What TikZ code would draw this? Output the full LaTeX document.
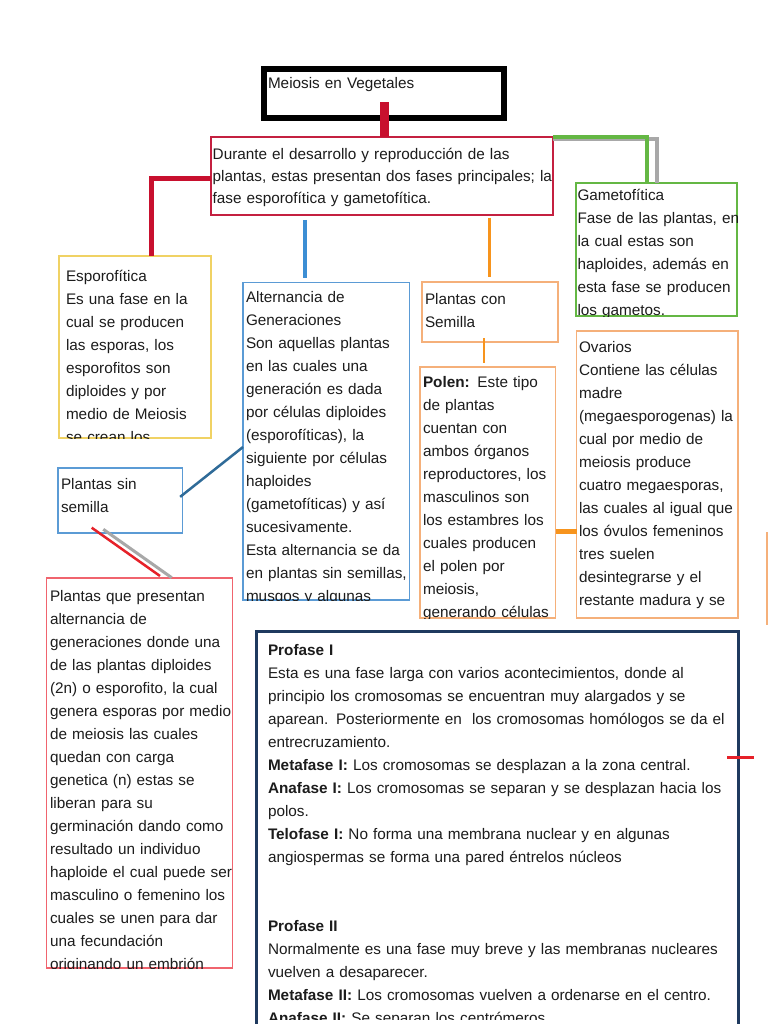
\documentclass[tikz,border=0pt]{standalone}
\usepackage{fontspec}
\setmainfont{Liberation Sans}
\usetikzlibrary{calc}
\hyphenpenalty=10000
\exhyphenpenalty=10000
\definecolor{txtc}{HTML}{1C1C1C}
\definecolor{barred}{HTML}{C8102E}
\definecolor{mainred}{HTML}{C42040}
\definecolor{ygold}{HTML}{F0D264}
\definecolor{gr}{HTML}{64B744}
\definecolor{gry}{HTML}{A8A8A8}
\definecolor{boxblue}{HTML}{5B9BD5}
\definecolor{lineblue}{HTML}{3C8ED4}
\definecolor{darkblue}{HTML}{2F6B98}
\definecolor{boxor}{HTML}{F5B07A}
\definecolor{lineor}{HTML}{F7941D}
\definecolor{lightred}{HTML}{F0646E}
\definecolor{redline}{HTML}{E62129}
\definecolor{navy}{HTML}{1F3A5F}
\begin{document}
\begin{tikzpicture}[x=1pt,y=-1pt,
  box/.style={draw, line width=1.4pt, inner sep=0pt, outer sep=0pt, anchor=north west},
  tx/.style={anchor=base west, inner sep=0pt, outer sep=0pt, align=left, text width=520pt, text=txtc, font=\fontsize{15.3}{23}\selectfont},
  conn/.style={line cap=butt, line join=miter},
]
\useasboundingbox (0,0) rectangle (768,1024);
\fill[white] (0,0) rectangle (768,1024);

% ---------- boxes ----------
\node[box, draw=black, line width=6pt, minimum width=240.5pt, minimum height=49.6pt] (title) at (263.8,68.7) {};
\node[box, draw=mainred, line width=2.5pt, minimum width=342pt, minimum height=78pt] (main) at (211,137) {};
\node[box, draw=gr, minimum width=161pt, minimum height=133pt] (gam) at (576,183) {};
\node[box, draw=ygold, minimum width=152pt, minimum height=182pt] (esp) at (59,256) {};
\node[box, draw=boxblue, minimum width=166.5pt, minimum height=317.5pt] (alt) at (243,282.5) {};
\node[box, draw=boxor, minimum width=136pt, minimum height=60pt] (pcs) at (422,282) {};
\node[box, draw=boxor, minimum width=135.5pt, minimum height=251pt] (pol) at (420,367) {};
\node[box, draw=boxor, minimum width=161.5pt, minimum height=287pt] (ova) at (576.5,331) {};
\node[box, draw=boxblue, minimum width=124.5pt, minimum height=65pt] (psm) at (58,468) {};
\node[box, draw=lightred, minimum width=186pt, minimum height=390pt] (rbx) at (46.5,578) {};
\node[box, draw=navy, line width=3pt, minimum width=482.5pt, minimum height=404pt] (pro) at (256,631) {};

% partial box at right edge
\draw[boxor, line width=1.4pt] (767,532) -- (767,625);

% ---------- texts ----------
\node[tx] (titletext) at (268,89) {Meiosis en Vegetales};

\begin{scope}
\clip (main.north west) rectangle (main.south east);
\node[tx, font=\fontsize{15.3}{21.7}\selectfont] (maintext) at (212.7,160) {Durante el desarrollo y reproducción de las\\plantas, estas presentan dos fases principales; la\\fase esporofítica y gametofítica.};
\end{scope}

\begin{scope}
\clip (gam.north west) rectangle (gam.south east);
\node[tx] (gamtext) at (577.5,200.5) {Gametofítica\\Fase de las plantas, en\\la cual estas son\\haploides, además en\\esta fase se producen\\los gametos.};
\end{scope}

\begin{scope}
\clip (esp.north west) rectangle (esp.south east);
\node[tx] (esptext) at (66,281) {Esporofítica\\Es una fase en la\\cual se producen\\las esporas, los\\esporofitos son\\diploides y por\\medio de Meiosis\\se crean los};
\end{scope}

\begin{scope}
\clip (alt.north west) rectangle (alt.south east);
\node[tx] (alttext) at (246,302) {Alternancia de\\Generaciones\\Son aquellas plantas\\en las cuales una\\generación es dada\\por células diploides\\(esporofíticas), la\\siguiente por células\\haploides\\(gametofíticas) y así\\sucesivamente.\\Esta alternancia se da\\en plantas sin semillas,\\musgos y algunas};
\end{scope}

\begin{scope}
\clip (pcs.north west) rectangle (pcs.south east);
\node[tx] (pcstext) at (425,304) {Plantas con\\Semilla};
\end{scope}

\begin{scope}
\clip (pol.north west) rectangle (pol.south east);
\node[tx] (poltext) at (423,387.5) {\textbf{Polen:} Este tipo\\de plantas\\cuentan con\\ambos órganos\\reproductores, los\\masculinos son\\los estambres los\\cuales producen\\el polen por\\meiosis,\\generando células};
\end{scope}

\begin{scope}
\clip (ova.north west) rectangle (ova.south east);
\node[tx] (ovatext) at (579,352) {Ovarios\\Contiene las células\\madre\\(megaesporogenas) la\\cual por medio de\\meiosis produce\\cuatro megaesporas,\\las cuales al igual que\\los óvulos femeninos\\tres suelen\\desintegrarse y el\\restante madura y se};
\end{scope}

\begin{scope}
\clip (psm.north west) rectangle (psm.south east);
\node[tx] (psmtext) at (61,489) {Plantas sin\\semilla};
\end{scope}

\begin{scope}
\clip (rbx.north west) rectangle (rbx.south east);
\node[tx] (rbxtext) at (50,601) {Plantas que presentan\\alternancia de\\generaciones donde una\\de las plantas diploides\\(2n) o esporofito, la cual\\genera esporas por medio\\de meiosis las cuales\\quedan con carga\\genetica (n) estas se\\liberan para su\\germinación dando como\\resultado un individuo\\haploide el cual puede ser\\masculino o femenino los\\cuales se unen para dar\\una fecundación\\originando un embrión};
\end{scope}

\begin{scope}
\clip (pro.north west) rectangle ($(pro.east |- 0,1019)$);
\node[tx] (protext) at (268,655) {\textbf{Profase I}\\Esta es una fase larga con varios acontecimientos, donde al\\principio los cromosomas se encuentran muy alargados y se\\aparean. Posteriormente en \ los cromosomas homólogos se da el\\entrecruzamiento.\\\textbf{Metafase I:} Los cromosomas se desplazan a la zona central.\\\textbf{Anafase I:} Los cromosomas se separan y se desplazan hacia los\\polos.\\\textbf{Telofase I:} No forma una membrana nuclear y en algunas\\angiospermas se forma una pared éntrelos núcleos\\[46pt]\textbf{Profase II}\\Normalmente es una fase muy breve y las membranas nucleares\\vuelven a desaparecer.\\\textbf{Metafase II:} Los cromosomas vuelven a ordenarse en el centro.\\\textbf{Anafase II:} Se separan los centrómeros};
\end{scope}

% ---------- connectors ----------
\draw[conn, barred, line width=9pt] ($(title.south)+(0,-16)$) -- (title.south |- main.north);
\draw[conn, barred, line width=4.5pt] (main.west |- 0,178.3) -| (151.7,0 |- esp.north);
\draw[conn, gry, line width=3.5pt] ($(main.north east)+(0,2)$) -| (657,0 |- gam.north);
\draw[conn, gr, line width=3.5pt] (main.north east) -| (647,0 |- gam.north);
\draw[conn, lineblue, line width=4pt, shorten <=5pt, shorten >=5pt] (305,0 |- main.south) -- (305,0 |- alt.north);
\draw[conn, lineor, line width=3pt, shorten <=3pt, shorten >=5pt] (489,0 |- main.south) -- (489,0 |- pcs.north);
\draw[conn, lineor, line width=2pt, shorten <=-4pt, shorten >=4pt] (484,0 |- pcs.south) -- (484,0 |- pol.north);
\draw[conn, lineor, line width=5pt] (pol.east |- 0,531.5) -- (ova.west |- 0,531.5);
\draw[conn, darkblue, line width=2.5pt, shorten <=-3pt] (psm.east |- 0,495) -- (alt.west |- 0,447);
\draw[conn, gry, line width=3pt] ($(psm.south west)+(45.3,-3.7)$) -- ($(rbx.north west)+(125.2,-0.3)$);
\draw[conn, redline, line width=2.5pt] ($(psm.south west)+(33.7,-5.3)$) -- ($(rbx.north west)+(113.5,-2)$);
\draw[conn, redline, line width=2.5pt] ($(pro.east |- 0,757.5)+(-11.5,0)$) -- ++(27,0);
\end{tikzpicture}
\end{document}
